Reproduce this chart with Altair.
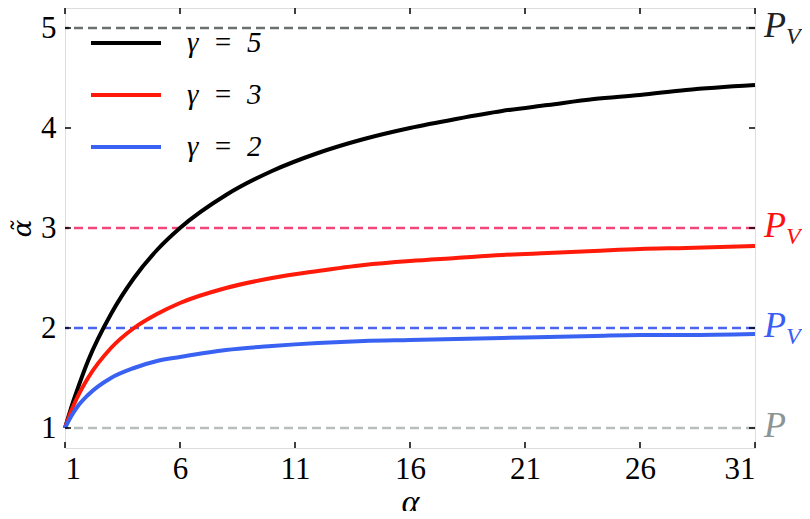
import altair as alt
import pandas as pd

alpha = [1, 1.25, 1.5, 2, 3, 4, 5, 6, 8, 10, 12, 14, 16, 18, 20, 22, 24, 26, 28, 31]
g5 = [1.0, 1.19, 1.36, 1.67, 2.14, 2.5, 2.78, 3.0, 3.33, 3.57, 3.75, 3.89, 4.0, 4.09, 4.17, 4.23, 4.29, 4.33, 4.38, 4.43]
g3 = [1.0, 1.16, 1.29, 1.5, 1.8, 2.0, 2.14, 2.25, 2.4, 2.5, 2.57, 2.63, 2.67, 2.7, 2.73, 2.75, 2.77, 2.79, 2.8, 2.82]
g2 = [1.0, 1.11, 1.2, 1.33, 1.5, 1.6, 1.67, 1.71, 1.78, 1.82, 1.85, 1.87, 1.88, 1.89, 1.9, 1.91, 1.92, 1.93, 1.93, 1.94]
series = ["γ\u2002=\u20025", "γ\u2002=\u20023", "γ\u2002=\u20022"]
series_colors = ["#000000", "#ff1a0a", "#3a62f2"]

hlines = [5, 3, 2, 1]
hline_colors = ["#6b7070", "#f0477c", "#4a66ee", "#b9bdbd"]
hlabels = ["P", "P", "P", "P"]
hsubs = ["V", "V", "V", ""]
hlabel_colors = ["#222222", "#ff1010", "#3a5ef2", "#8c9494"]

xticks = [1, 6, 11, 16, 21, 26, 31]
yticks = [1, 2, 3, 4, 5]

W, H = 690, 440
FONT = "Liberation Serif"
TFONT = "DejaVu Serif"

rows = []
for name, vals in zip(series, [g5, g3, g2]):
    for a, v in zip(alpha, vals):
        rows.append({"alpha": a, "val": v, "series": name})
df = pd.DataFrame(rows)

hdf = pd.DataFrame({"y": hlines, "color": hline_colors, "lab": hlabels,
                    "sub": hsubs, "lcolor": hlabel_colors})
xdf = pd.DataFrame({"x": xticks})
ydf = pd.DataFrame({"y": yticks})

xscale = alt.Scale(domain=[1, 31], nice=False, zero=False)
yscale = alt.Scale(domain=[0.8, 5.2], nice=False, zero=False)

dashed = alt.Chart(hdf).mark_rule(strokeDash=[9, 5], strokeWidth=2.5).encode(
    y=alt.Y("y:Q", scale=yscale),
    color=alt.Color("color:N", scale=None),
)

lines = alt.Chart(df).mark_line(strokeWidth=4, interpolate="monotone").encode(
    x=alt.X("alpha:Q", scale=xscale,
            axis=alt.Axis(values=xticks, format="d", title="α", titleFont=FONT, titleFontSize=34,
                          titleFontStyle="italic", titleFontWeight="normal",
                          titlePadding=1, labelFont=FONT, labelFontSize=31,
                          labelPadding=6, ticks=False, domain=False, grid=False,
                          labelColor="#000", titleColor="#000")),
    y=alt.Y("val:Q", scale=yscale,
            axis=alt.Axis(values=yticks, format="d", title="α̃", titleFont=TFONT, titleFontSize=26,
                          titleFontStyle="italic", titleFontWeight="normal",
                          titlePadding=5, labelFont=FONT, labelFontSize=31,
                          labelPadding=9, ticks=False, domain=False, grid=False,
                          labelColor="#000", titleColor="#000")),
    color=alt.Color("series:N", sort=series,
                    scale=alt.Scale(domain=series, range=series_colors),
                    legend=alt.Legend(orient="none", legendX=24, legendY=-2, title=None,
                                      symbolType="stroke", symbolStrokeWidth=4,
                                      symbolSize=4900, labelFont=FONT, labelFontSize=29,
                                      labelFontStyle="italic", rowPadding=0,
                                      labelOffset=24, labelColor="#000")),
)

tick_len = 6
xt_bot = alt.Chart(xdf).mark_rule(color="black", strokeWidth=1.5).encode(
    x=alt.X("x:Q", scale=xscale), y=alt.value(H), y2=alt.value(H - tick_len))
xt_top = alt.Chart(xdf).mark_rule(color="black", strokeWidth=1.5).encode(
    x=alt.X("x:Q", scale=xscale), y=alt.value(0), y2=alt.value(tick_len))
yt_left = alt.Chart(ydf).mark_rule(color="black", strokeWidth=1.5).encode(
    y=alt.Y("y:Q", scale=yscale), x=alt.value(0), x2=alt.value(tick_len))
yt_right = alt.Chart(ydf).mark_rule(color="black", strokeWidth=1.5).encode(
    y=alt.Y("y:Q", scale=yscale), x=alt.value(W), x2=alt.value(W - tick_len))

plabels = alt.Chart(hdf).mark_text(font=FONT, fontSize=36, fontStyle="italic",
                                   align="left", baseline="middle", dy=-2).encode(
    y=alt.Y("y:Q", scale=yscale), x=alt.value(W + 9), text="lab:N",
    color=alt.Color("lcolor:N", scale=None))
psubs = alt.Chart(hdf).mark_text(font=FONT, fontSize=24, fontStyle="italic",
                                 align="left", baseline="middle", dy=9).encode(
    y=alt.Y("y:Q", scale=yscale), x=alt.value(W + 31), text="sub:N",
    color=alt.Color("lcolor:N", scale=None))

chart = alt.layer(dashed, lines, xt_bot, xt_top, yt_left, yt_right, plabels, psubs).properties(
    width=W, height=H,
    autosize=alt.AutoSizeParams(type="none"),
    padding={"left": 57, "top": 0, "right": 810 - 16 - 57 - W, "bottom": 519 - 16 - H},
).configure_view(stroke="black", strokeWidth=2).configure(background="white", font=FONT)

chart.save("out.html", embed_options={"renderer": "svg", "actions": False})
